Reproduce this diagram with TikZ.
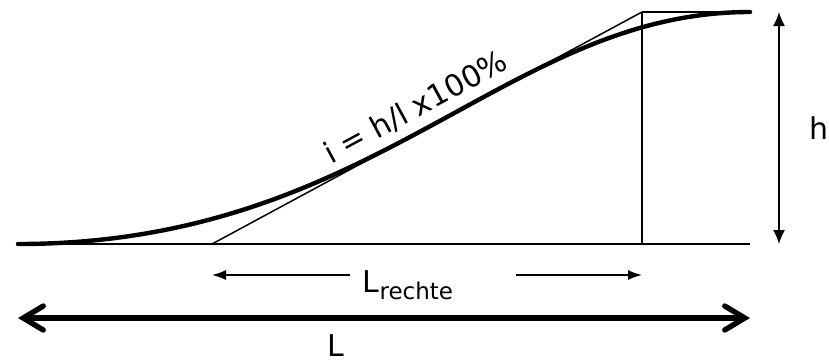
\documentclass[tikz,border=0pt]{standalone}
\usepackage{fontspec}
\setmainfont{DejaVu Sans}
\usetikzlibrary{positioning, arrows.meta, calc}

\begin{document}
\begin{tikzpicture}[x=0.5pt, y=-0.5pt, thin line/.style={line width=0.75pt},
                    thick line/.style={line width=2.2pt, line cap=round},
                    label text/.style={font=\fontsize{15}{18}\selectfont, inner sep=0pt}]
    \useasboundingbox (0,0) rectangle (829,360);

    % Points of the profile
    \coordinate (start)  at (18, 244);
    \coordinate (foot)   at (212, 244);
    \coordinate (base)   at (642, 244);
    \coordinate (end)    at (750, 244);
    \coordinate (corner) at (642, 12);
    \coordinate (top)    at (750, 12);

    % Ground line, tangent and vertical
    \draw[thin line] (start) -- (end);
    \draw[thin line] (foot) -- node[label text, above=5pt, sloped, pos=0.5] (slope) {i = h/l x100\%} (corner);
    \draw[thin line] (corner) -- (base);
    \draw[thin line] (corner) -- (top);

    % Profile curve
    \draw[thick line] (start) .. controls (377, 244) and (505, 12) .. (top);

    % Dimension arrows
    \coordinate (hT) at (779, 12);
    \coordinate (hB) at (779, 244);
    \draw[thin line, {Latex[length=7pt, width=6pt]}-{Latex[length=7pt, width=6pt]}] (hT) -- node[label text, right=15pt] (hlab) {h} (hB);

    \node[label text] (lr) at (408, 285) {L\raisebox{-0.45ex}{\fontsize{11.5}{14}\selectfont rechte}};
    \coordinate (lrL) at (212, 275);
    \coordinate (lrR) at (642, 275);
    \draw[thin line, -{Latex[length=7pt, width=5pt]}] (350, 275) -- (lrL);
    \draw[thin line, -{Latex[length=7pt, width=5pt]}] (516, 275) -- (lrR);

    \coordinate (LL) at (18, 318);
    \coordinate (LR) at (750, 318);
    \draw[line width=2.7pt, {Straight Barb[length=10pt, width=12pt, line cap=round]}-{Straight Barb[length=10pt, width=12pt, line cap=round]}] (LL) -- (LR);
    \node[label text] (Llab) at (336, 346) {L};

\end{tikzpicture}
\end{document}
